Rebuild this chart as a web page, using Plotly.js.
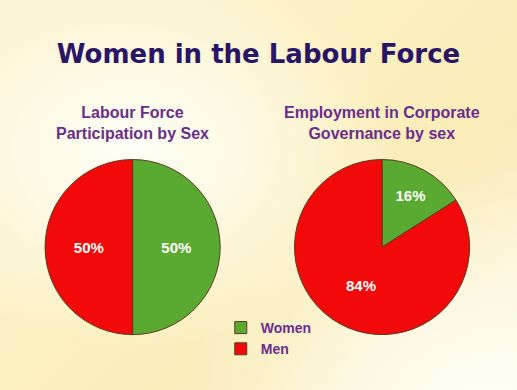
<!DOCTYPE html>
<html>
<head>
<meta charset="utf-8">
<script src="https://cdn.plot.ly/plotly-3.0.1.min.js"></script>
<style>
html,body{margin:0;padding:0;}
body{width:517px;height:390px;overflow:hidden;
background: radial-gradient(ellipse 260px 200px at 130px 150px, #fffef6 0%, #fdf9e2 45%, rgba(253,246,205,0) 100%),
            radial-gradient(ellipse 300px 260px at 480px 420px, #fffef8 0%, rgba(255,252,230,0) 100%),
            linear-gradient(135deg, #fbf3d0 0%, #fbf0c0 40%, #f9ecb8 70%, #fdf6dc 100%);}
#chart{width:517px;height:390px;}
</style>
</head>
<body>
<div id="chart"></div>
<script>
const labels = ["Women", "Men"];
const participation = [50, 50];
const governance = [16, 84];
const sliceColors = ["#5aaa32", "#f20a0a"];
const chartTitle = "Women in the Labour Force";
const leftTitle = "Labour Force<br>Participation by Sex";
const rightTitle = "Employment in Corporate<br>Governance by sex";

const common = {
  type: "pie",
  labels: labels,
  sort: false,
  direction: "clockwise",
  rotation: 0,
  textinfo: "percent",
  textposition: "inside",
  insidetextorientation: "horizontal",
  textfont: {family: "Liberation Sans, Arial, sans-serif", size: 15, color: "#ffffff", weight: "bold"},
  marker: {colors: sliceColors, line: {color: "#5a3a20", width: 1}},
  hoverinfo: "label+percent"
};

const data = [
  Object.assign({}, common, {values: participation, domain: {x: [0.087, 0.426], y: [0.142, 0.591]}}),
  Object.assign({}, common, {values: governance, domain: {x: [0.569, 0.909], y: [0.142, 0.591]}})
];

const purple = "#6b2d8c";
const layout = {
  width: 517, height: 390,
  margin: {l: 0, r: 0, t: 0, b: 0},
  paper_bgcolor: "rgba(0,0,0,0)",
  plot_bgcolor: "rgba(0,0,0,0)",
  title: {text: "<b>" + chartTitle + "</b>", x: 0.5, xanchor: "center", y: 0.862, yanchor: "middle",
          font: {family: "DejaVu Sans, Arial, sans-serif", size: 26, color: "#2a1466"}},
  showlegend: true,
  legend: {x: 0.427, y: 0.2, xanchor: "left", yanchor: "top", bgcolor: "rgba(0,0,0,0)",
           font: {family: "Liberation Sans, Arial, sans-serif", size: 14, color: purple, weight: "bold"}},
  annotations: [
    {text: "<b>" + leftTitle + "</b>", x: 0.257, y: 0.685, xref: "paper", yref: "paper", showarrow: false,
     font: {family: "Liberation Sans, Arial, sans-serif", size: 16, color: purple}, xanchor: "center", yanchor: "middle"},
    {text: "<b>" + rightTitle + "</b>", x: 0.739, y: 0.685, xref: "paper", yref: "paper", showarrow: false,
     font: {family: "Liberation Sans, Arial, sans-serif", size: 16, color: purple}, xanchor: "center", yanchor: "middle"}
  ]
};

Plotly.newPlot("chart", data, layout, {displayModeBar: false, staticPlot: true});
</script>
</body>
</html>
